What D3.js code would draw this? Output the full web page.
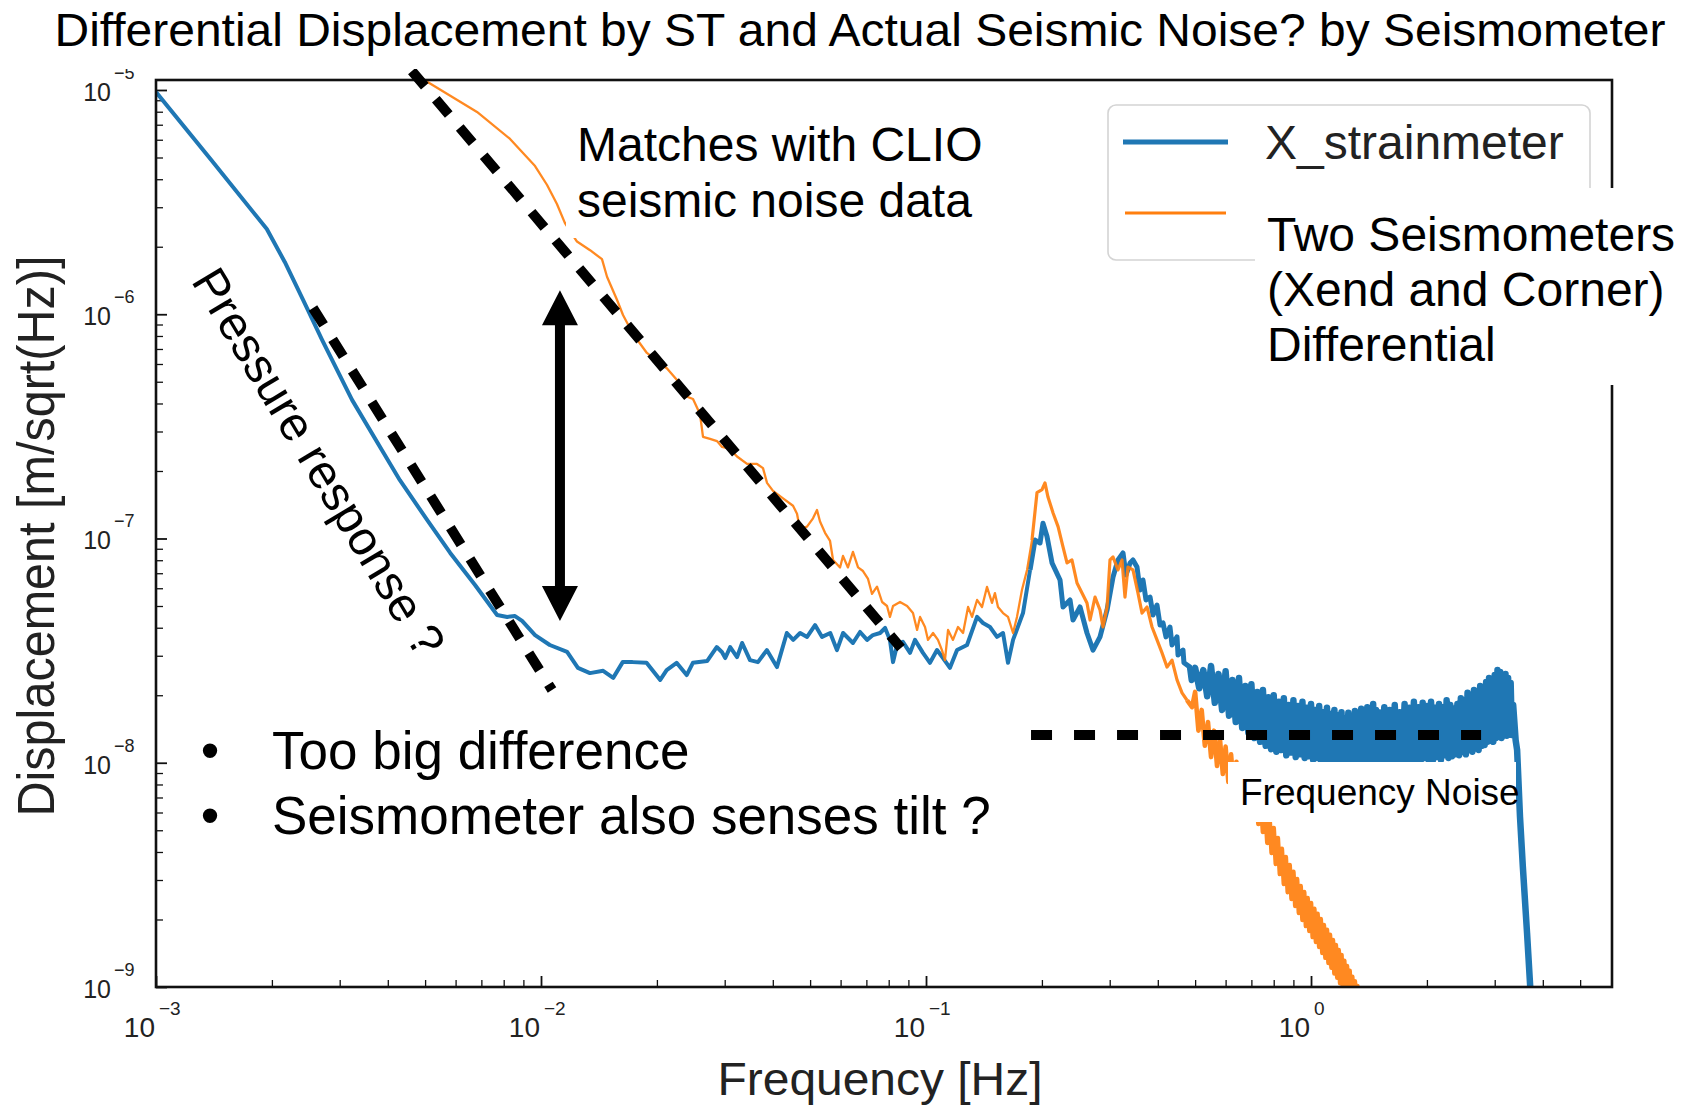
<!DOCTYPE html>
<html>
<head>
<meta charset="utf-8">
<script src="https://cdn.jsdelivr.net/npm/d3@7"></script>
<style>
  body { margin: 0; background: #fff; }
  svg { display: block; font-family: "Liberation Sans", Arial, sans-serif; }
</style>
</head>
<body>
<svg id="chart" width="1686" height="1106"></svg>
<script>
// axis ranges and tick labels
const xDomain = [1e-3, 6.05]
const yDomain = [1e-9, 1.108e-5]
const xMajor = [1e-3, 1e-2, 1e-1, 1e0]
const xMajorExp = ['\u22123', '\u22122', '\u22121', '0']
const yMajor = [1e-9, 1e-8, 1e-7, 1e-6, 1e-5]
const yMajorExp = ['\u22129', '\u22128', '\u22127', '\u22126', '\u22125']
const seriesNames = ['X_strainmeter', 'Two Seismometers']
const seriesColors = ['#1f77b4', '#ff7f0e']

// X_strainmeter ASD [frequency Hz, m/sqrt(Hz)]
const xStrainmeter = [
  [0.001, 9.8e-6], [0.00139, 4.88e-6], [0.00194, 2.40e-6], [0.00216, 1.71e-6], [0.00241, 1.16e-6],
  [0.00270, 7.68e-7], [0.00323, 4.15e-7], [0.00386, 2.48e-7], [0.00430, 1.82e-7], [0.00506, 1.21e-7],
  [0.00581, 8.62e-8], [0.00674, 6.20e-8], [0.00769, 4.56e-8],
  [0.00817, 4.47e-8], [0.00856, 4.51e-8], [0.00893, 4.29e-8], [0.00965, 3.71e-8], [0.01054, 3.35e-8],
  [0.01169, 3.12e-8], [0.01247, 2.65e-8], [0.0134, 2.51e-8], [0.0145, 2.57e-8], [0.0154, 2.39e-8],
  [0.0163, 2.81e-8], [0.0173, 2.81e-8], [0.0188, 2.79e-8], [0.0204, 2.34e-8], [0.0212, 2.59e-8],
  [0.0225, 2.79e-8], [0.0239, 2.46e-8], [0.0248, 2.79e-8], [0.0270, 2.84e-8], [0.0286, 3.28e-8],
  [0.0295, 3.12e-8], [0.0301, 2.93e-8], [0.0310, 3.28e-8], [0.0323, 2.96e-8], [0.0333, 3.42e-8],
  [0.0349, 2.87e-8], [0.0366, 2.81e-8], [0.0386, 3.18e-8], [0.0410, 2.67e-8], [0.0435, 3.79e-8],
  [0.0452, 3.53e-8], [0.0471, 3.79e-8], [0.0491, 3.64e-8], [0.0515, 4.11e-8], [0.0537, 3.64e-8],
  [0.0564, 3.79e-8], [0.0587, 3.18e-8], [0.0609, 3.79e-8], [0.0646, 3.42e-8], [0.0674, 3.83e-8],
  [0.0703, 3.53e-8], [0.0728, 3.71e-8], [0.0760, 3.79e-8], [0.0783, 3.99e-8], [0.0806, 3.53e-8],
  [0.0821, 2.81e-8], [0.0841, 3.35e-8], [0.0871, 3.46e-8], [0.0909, 3.09e-8], [0.0936, 3.53e-8],
  [0.0982, 3.09e-8], [0.1024, 2.79e-8], [0.1068, 3.18e-8], [0.1107, 2.93e-8], [0.1154, 2.65e-8],
  [0.1204, 3.18e-8], [0.1278, 3.35e-8], [0.1357, 4.47e-8], [0.1406, 4.20e-8], [0.1466, 4.03e-8],
  [0.1529, 3.64e-8], [0.1585, 3.79e-8], [0.1633, 2.79e-8], [0.1683, 3.53e-8], [0.1786, 4.65e-8],
  [0.1863, 7.24e-8], [0.1919, 9.84e-8], [0.1978, 9.55e-8], [0.2013, 1.17e-7], [0.2062, 1.02e-7],
  [0.2125, 7.78e-8], [0.2229, 6.53e-8], [0.2269, 4.95e-8], [0.2366, 5.32e-8], [0.2409, 4.33e-8],
  [0.2512, 4.95e-8], [0.2619, 3.79e-8], [0.2715, 3.18e-8], [0.2831, 3.64e-8], [0.2953, 4.80e-8],
  [0.3060, 6.73e-8], [0.3152, 8.02e-8], [0.3248, 8.62e-8], [0.3307, 6.87e-8], [0.3388, 7.78e-8],
  [0.3448, 8.02e-8], [0.3532, 7.46e-8], [0.3596, 5.89e-8], [0.3661, 6.53e-8], [0.3727, 5.32e-8],
  [0.3819, 5.48e-8], [0.3887, 4.56e-8], [0.3981, 5.05e-8], [0.4054, 4.11e-8], [0.4127, 4.20e-8],
  [0.4201, 3.64e-8], [0.4302, 4.03e-8], [0.4355, 3.35e-8], [0.4487, 3.64e-8], [0.4514, 3.02e-8],
  [0.4651, 3.18e-8], [0.4677, 2.79e-8], [0.4851, 2.67e-8], [0.4900, 2.34e-8],
  [0.5000, 2.65e-8], [0.5125, 2.15e-8], [0.5250, 2.59e-8], [0.5375, 1.98e-8], [0.5500, 2.70e-8],
  [0.5625, 1.85e-8], [0.5750, 2.49e-8], [0.5875, 1.72e-8], [0.6000, 2.56e-8], [0.6125, 1.62e-8],
  [0.6250, 2.34e-8], [0.6375, 1.52e-8], [0.6500, 2.39e-8], [0.6625, 1.43e-8], [0.6750, 2.20e-8],
  [0.6875, 1.36e-8], [0.7000, 2.24e-8], [0.7125, 1.29e-8], [0.7250, 2.07e-8], [0.7375, 1.24e-8],
  [0.7500, 2.11e-8], [0.7625, 1.19e-8], [0.7750, 1.96e-8], [0.7875, 1.15e-8], [0.8000, 2.00e-8],
  [0.8125, 1.12e-8], [0.8250, 1.87e-8], [0.8375, 1.14e-8], [0.8500, 1.94e-8], [0.8625, 1.08e-8],
  [0.8750, 1.81e-8], [0.8875, 1.11e-8], [0.9000, 1.90e-8], [0.9125, 1.06e-8], [0.9250, 1.79e-8],
  [0.9375, 1.09e-8], [0.9500, 1.87e-8], [0.9625, 1.05e-8], [0.9750, 1.76e-8], [0.9875, 1.07e-8],
  [1.0000, 1.83e-8], [1.0125, 1.03e-8], [1.0250, 1.72e-8], [1.0375, 1.05e-8], [1.0500, 1.79e-8],
  [1.0625, 1.01e-8], [1.0750, 1.68e-8], [1.0875, 1.04e-8], [1.1000, 1.76e-8], [1.1125, 0.99e-8],
  [1.1250, 1.65e-8], [1.1375, 1.01e-8], [1.1500, 1.72e-8], [1.1625, 0.977e-8], [1.1750, 1.62e-8],
  [1.1875, 1.00e-8], [1.2000, 1.68e-8], [1.2125, 0.977e-8], [1.2250, 1.58e-8], [1.2375, 1.00e-8],
  [1.2500, 1.67e-8], [1.2625, 0.977e-8], [1.2750, 1.58e-8], [1.2875, 0.99e-8], [1.3000, 1.70e-8],
  [1.3125, 0.977e-8], [1.3250, 1.62e-8], [1.3375, 1.00e-8], [1.3500, 1.74e-8], [1.3625, 0.977e-8],
  [1.3750, 1.65e-8], [1.3875, 0.99e-8], [1.4000, 1.77e-8], [1.4125, 0.977e-8], [1.4250, 1.68e-8],
  [1.4375, 1.00e-8], [1.4500, 1.83e-8], [1.4625, 0.977e-8], [1.4750, 1.72e-8], [1.4875, 0.99e-8],
  [1.500, 1.68e-8], [1.525, 1.03e-8], [1.550, 1.77e-8], [1.575, 0.977e-8], [1.600, 1.72e-8],
  [1.625, 1.01e-8], [1.650, 1.81e-8], [1.675, 0.977e-8], [1.700, 1.68e-8], [1.725, 1.03e-8],
  [1.750, 1.83e-8], [1.775, 0.977e-8], [1.800, 1.76e-8], [1.825, 1.01e-8], [1.850, 1.87e-8],
  [1.875, 1.03e-8], [1.900, 1.77e-8], [1.925, 0.99e-8], [1.950, 1.85e-8], [1.975, 1.05e-8],
  [2.000, 1.79e-8], [2.025, 1.01e-8], [2.050, 1.87e-8], [2.075, 1.03e-8], [2.100, 1.76e-8],
  [2.125, 1.06e-8], [2.150, 1.83e-8], [2.175, 1.03e-8], [2.200, 1.77e-8], [2.225, 1.08e-8],
  [2.250, 1.90e-8], [2.275, 1.05e-8], [2.300, 1.81e-8], [2.325, 1.07e-8], [2.350, 1.74e-8],
  [2.375, 1.09e-8], [2.400, 1.83e-8], [2.425, 1.08e-8], [2.450, 1.94e-8], [2.475, 1.12e-8],
  [2.500, 1.90e-8], [2.525, 1.09e-8], [2.550, 2.05e-8], [2.575, 1.14e-8], [2.600, 1.98e-8],
  [2.625, 1.12e-8], [2.650, 2.11e-8], [2.675, 1.16e-8], [2.700, 2.05e-8], [2.725, 1.14e-8],
  [2.750, 2.20e-8], [2.775, 1.19e-8], [2.800, 2.15e-8], [2.825, 1.20e-8], [2.850, 2.29e-8],
  [2.875, 1.24e-8], [2.900, 2.39e-8], [2.925, 1.26e-8], [2.950, 2.22e-8], [2.975, 1.24e-8],
  [3.000, 2.46e-8], [3.025, 1.29e-8], [3.050, 2.59e-8], [3.075, 1.32e-8], [3.100, 2.54e-8],
  [3.125, 1.29e-8], [3.150, 2.44e-8], [3.175, 1.33e-8], [3.200, 2.49e-8], [3.225, 1.32e-8],
  [3.250, 2.39e-8], [3.275, 1.36e-8], [3.300, 2.27e-8], [3.325, 1.33e-8], [3.350, 1.81e-8],
  [3.400, 1.26e-8], [3.430, 1.14e-8], [3.490, 5.73e-9], [3.550, 3.43e-9], [3.640, 1.74e-9],
  [3.710, 1.0e-9], [3.800, 5.0e-10]
]

// two seismometers (Xend and Corner) differential [frequency Hz, m/sqrt(Hz)]
const seismoDiff = [
  [4.30e-3, 1.29e-5], [5.15e-3, 1.07e-5], [6.82e-3, 7.98e-6], [8.31e-3, 6.05e-6], [9.65e-3, 4.58e-6],
  [1.037e-2, 3.77e-6], [1.100e-2, 3.10e-6], [1.154e-2, 2.55e-6], [1.240e-2, 2.11e-6], [1.341e-2, 1.93e-6],
  [1.440e-2, 1.76e-6], [1.484e-2, 1.47e-6], [1.575e-2, 1.16e-6], [1.633e-2, 9.92e-7], [1.734e-2, 8.16e-7],
  [1.884e-2, 6.72e-7], [2.001e-2, 6.19e-7], [2.125e-2, 5.73e-7], [2.255e-2, 5.09e-7], [2.338e-2, 4.36e-7],
  [2.482e-2, 4.19e-7], [2.588e-2, 3.59e-7], [2.635e-2, 2.84e-7], [2.748e-2, 2.78e-7], [2.865e-2, 2.72e-7],
  [2.953e-2, 2.56e-7], [3.096e-2, 2.51e-7], [3.229e-2, 2.32e-7], [3.429e-2, 2.15e-7], [3.639e-2, 2.15e-7],
  [3.772e-2, 2.06e-7], [3.864e-2, 1.77e-7], [4.005e-2, 1.63e-7], [4.252e-2, 1.51e-7], [4.514e-2, 1.40e-7],
  [4.623e-2, 1.29e-7], [4.706e-2, 1.10e-7], [4.908e-2, 1.13e-7], [5.087e-2, 1.23e-7], [5.210e-2, 1.34e-7],
  [5.305e-2, 1.19e-7], [5.467e-2, 1.06e-7], [5.633e-2, 9.75e-8], [5.735e-2, 8.02e-8], [5.98e-2, 7.43e-8],
  [6.086e-2, 8.36e-8], [6.27e-2, 7.43e-8], [6.46e-2, 8.71e-8], [6.66e-2, 7.43e-8], [6.86e-2, 7.16e-8],
  [7.07e-2, 6.60e-8], [7.24e-2, 5.66e-8], [7.46e-2, 6.10e-8], [7.69e-2, 5.21e-8], [7.92e-2, 5.00e-8],
  [8.06e-2, 4.47e-8], [8.21e-2, 5.00e-8], [8.56e-2, 5.21e-8], [8.93e-2, 5.00e-8], [9.25e-2, 4.65e-8],
  [9.48e-2, 3.91e-8], [9.65e-2, 4.47e-8], [9.94e-2, 4.03e-8], [0.1012, 3.53e-8], [0.1043, 3.79e-8],
  [0.1074, 3.53e-8], [0.1100, 3.18e-8], [0.1120, 2.87e-8], [0.1141, 3.91e-8], [0.1175, 3.53e-8],
  [0.1211, 4.03e-8], [0.1248, 3.79e-8], [0.1286, 4.95e-8], [0.1317, 4.47e-8], [0.1357, 5.32e-8],
  [0.1398, 4.95e-8], [0.1440, 6.08e-8], [0.1484, 5.16e-8], [0.1510, 5.71e-8], [0.1538, 4.95e-8],
  [0.1585, 4.65e-8], [0.1633, 4.47e-8], [0.1683, 3.79e-8], [0.1723, 4.47e-8], [0.1775, 5.89e-8],
  [0.1830, 7.24e-8], [0.1885, 9.84e-8], [0.1942, 1.60e-7], [0.2001, 1.65e-7], [0.2037, 1.77e-7],
  [0.2074, 1.53e-7], [0.2138, 1.30e-7], [0.2203, 1.13e-7], [0.2269, 9.17e-8], [0.2324, 7.78e-8],
  [0.2394, 8.02e-8], [0.2467, 6.33e-8], [0.2542, 5.71e-8], [0.2619, 5.16e-8], [0.2667, 4.33e-8],
  [0.2748, 5.48e-8], [0.2831, 4.80e-8], [0.2882, 4.03e-8], [0.2953, 4.95e-8], [0.3005, 8.02e-8],
  [0.3060, 8.27e-8], [0.3152, 7.24e-8], [0.3229, 8.02e-8], [0.3287, 5.48e-8], [0.3347, 7.46e-8],
  [0.3448, 7.24e-8], [0.3553, 5.71e-8], [0.3640, 4.65e-8], [0.3750, 4.95e-8], [0.3864, 4.03e-8],
  [0.3981, 3.53e-8], [0.4102, 3.09e-8], [0.4227, 2.67e-8], [0.4355, 2.87e-8], [0.4487, 2.34e-8],
  [0.4623, 2.05e-8], [0.4764, 1.90e-8], [0.4909, 1.77e-8],
  [0.50, 2.07e-8], [0.51, 1.39e-8], [0.52, 1.72e-8], [0.53, 1.19e-8], [0.54, 1.52e-8],
  [0.55, 1.06e-8], [0.56, 1.39e-8], [0.57, 9.67e-9], [0.58, 1.28e-8], [0.59, 8.91e-9],
  [0.60, 1.18e-8], [0.61, 8.21e-9], [0.62, 1.09e-8], [0.63, 7.64e-9], [0.64, 1.01e-8],
  [0.65, 7.11e-9], [0.66, 9.38e-9], [0.67, 6.61e-9], [0.68, 8.73e-9], [0.69, 6.16e-9],
  [0.70, 8.12e-9], [0.71, 5.73e-9], [0.72, 7.56e-9], [0.73, 5.33e-9], [0.74, 7.11e-9],
  [0.75, 4.91e-9], [0.76, 6.35e-9], [0.77, 4.39e-9], [0.78, 5.73e-9], [0.79, 3.96e-9],
  [0.80, 5.12e-9], [0.81, 3.54e-9], [0.82, 4.62e-9], [0.83, 3.19e-9], [0.84, 4.13e-9],
  [0.85, 2.88e-9], [0.86, 3.80e-9], [0.87, 2.65e-9], [0.88, 3.50e-9], [0.89, 2.47e-9],
  [0.90, 3.26e-9], [0.91, 2.30e-9], [0.92, 3.03e-9], [0.93, 2.14e-9], [0.94, 2.82e-9],
  [0.95, 1.99e-9], [0.96, 2.65e-9], [0.97, 1.87e-9], [0.98, 2.49e-9], [0.99, 1.78e-9],
  [1.00, 2.37e-9], [1.01, 1.67e-9], [1.02, 2.23e-9], [1.03, 1.59e-9], [1.04, 2.12e-9],
  [1.05, 1.51e-9], [1.06, 2.01e-9], [1.07, 1.42e-9], [1.08, 1.89e-9], [1.09, 1.35e-9],
  [1.10, 1.80e-9], [1.11, 1.28e-9], [1.12, 1.71e-9], [1.13, 1.22e-9], [1.14, 1.62e-9],
  [1.15, 1.15e-9], [1.16, 1.54e-9], [1.17, 1.10e-9], [1.18, 1.46e-9], [1.19, 1.04e-9],
  [1.20, 1.39e-9], [1.21, 9.8e-10], [1.22, 1.31e-9], [1.23, 9.3e-10], [1.24, 1.24e-9],
  [1.25, 8.8e-10], [1.26, 1.18e-9], [1.27, 8.3e-10], [1.28, 1.11e-9], [1.29, 7.9e-10],
  [1.30, 1.06e-9], [1.31, 7.6e-10], [1.32, 1.01e-9], [1.33, 7.2e-10], [1.34, 9.7e-10],
  [1.35, 6.9e-10], [1.36, 9.2e-10], [1.38, 6.5e-10], [1.40, 6.0e-10]
]

// hand drawn guide lines on the slide, in data units
const pressureFit = [[2.557e-3, 1.066e-6], [1.068e-2, 2.11e-8]]
const clioFit = [[4.62e-3, 1.215e-5], [8.61e-2, 3.25e-8]]
const freqNoiseLevel = [[0.1874, 1.33e-8], [2.765, 1.33e-8]]
const gapArrow = [[0.0112, 1.28e-6], [0.0112, 4.29e-8]]

// stroke width per frequency range: the dense high-frequency part reads as a thick band
const blueWidths = [[0, 0.19, 4], [0.19, 0.49, 5], [0.49, 10, 6.5]]
const orangeWidths = [[0, 0.19, 2.3], [0.19, 0.49, 3.2], [0.49, 10, 4.6]]

const margin = { left: 156, top: 80, right: 74, bottom: 119 }
const width = 1686 - margin.left - margin.right
const height = 1106 - margin.top - margin.bottom

const svg = d3.select('#chart')

const x = d3.scaleLog().domain(xDomain).range([margin.left, margin.left + width])
const y = d3.scaleLog().domain(yDomain).range([margin.top + height, margin.top])

// minor ticks 2..9 of every decade inside the domain
const xMinor = []
xMajor.forEach(d => { for (let k = 2; k < 10; k++) if (d * k < xDomain[1] * 0.99) xMinor.push(d * k) })
const yMinor = []
yMajor.forEach(d => { for (let k = 2; k < 10; k++) if (d * k < yDomain[1]) yMinor.push(d * k) })

svg.append('defs').append('clipPath').attr('id', 'plot-clip')
  .append('rect')
  .attr('x', margin.left).attr('y', margin.top)
  .attr('width', width).attr('height', height)

// ticks (pointing inward)
function tickAxis (axis, tr, size, sw) {
  const g = svg.append('g').attr('transform', tr)
    .call(axis.tickSize(size).tickFormat(() => ''))
  g.select('.domain').remove()
  g.selectAll('.tick line').attr('stroke', '#111').attr('stroke-width', sw)
}
const bottomY = margin.top + height
tickAxis(d3.axisBottom(x).tickValues(xMajor), `translate(0,${bottomY})`, -11, 1.8)
tickAxis(d3.axisBottom(x).tickValues(xMinor), `translate(0,${bottomY})`, -7, 1.3)
tickAxis(d3.axisLeft(y).tickValues(yMajor), `translate(${margin.left},0)`, -11, 1.8)
tickAxis(d3.axisLeft(y).tickValues(yMinor), `translate(${margin.left},0)`, -7, 1.3)

// tick labels as 10^n
const xLab = svg.append('g').attr('fill', '#222')
xMajor.forEach((d, i) => {
  xLab.append('text').attr('x', x(d) - 1).attr('y', bottomY + 50)
    .attr('text-anchor', 'end').attr('font-size', 28).text('10')
  xLab.append('text').attr('x', x(d) + 3).attr('y', bottomY + 28)
    .attr('font-size', 19).text(xMajorExp[i])
})
const yLab = svg.append('g').attr('fill', '#222')
yMajor.forEach((d, i) => {
  yLab.append('text').attr('x', 111).attr('y', y(d) + 11)
    .attr('text-anchor', 'end').attr('font-size', 25).text('10')
  yLab.append('text').attr('x', 114).attr('y', y(d) - 11)
    .attr('font-size', 18).text(yMajorExp[i])
})

// series
const line = d3.line().x(d => x(d[0])).y(d => y(d[1]))
const curves = svg.append('g').attr('clip-path', 'url(#plot-clip)')
  .attr('fill', 'none').attr('stroke-linejoin', 'round')
function drawSeries (data, color, widths, opacity) {
  widths.forEach(([f0, f1, w]) => {
    // take one extra point on the left so the pieces join up
    let i0 = data.findIndex(d => d[0] >= f0)
    let i1 = data.length - 1
    while (i1 > 0 && data[i1][0] > f1) i1--
    i0 = Math.max(0, i0 - 1)
    curves.append('path').datum(data.slice(i0, i1 + 1))
      .attr('d', line).attr('stroke', color).attr('stroke-width', w)
      .attr('stroke-opacity', opacity)
  })
}
drawSeries(xStrainmeter, seriesColors[0], blueWidths, 1)
drawSeries(seismoDiff, seriesColors[1], orangeWidths, 0.92)

// frame
svg.append('rect').attr('x', margin.left).attr('y', margin.top)
  .attr('width', width).attr('height', height)
  .attr('fill', 'none').attr('stroke', '#111').attr('stroke-width', 2.6)

// legend
const leg = svg.append('g')
leg.append('rect').attr('x', 1108).attr('y', 105).attr('width', 482).attr('height', 155)
  .attr('rx', 8).attr('fill', '#fff').attr('fill-opacity', 0.8)
  .attr('stroke', '#d4d4d4').attr('stroke-width', 1.6)
leg.append('line').attr('x1', 1123).attr('x2', 1228).attr('y1', 142).attr('y2', 142)
  .attr('stroke', seriesColors[0]).attr('stroke-width', 5)
leg.append('line').attr('x1', 1125).attr('x2', 1226).attr('y1', 213).attr('y2', 213)
  .attr('stroke', seriesColors[1]).attr('stroke-width', 2.8)
leg.append('text').attr('x', 1265).attr('y', 159).attr('font-size', 48).attr('fill', '#222')
  .text(seriesNames[0])

// dashed guides
const guide = svg.append('g').attr('stroke', '#000').attr('fill', 'none')
guide.append('path').datum(pressureFit).attr('d', line)
  .attr('stroke-width', 10).attr('stroke-dasharray', '20,17')
guide.append('path').datum(clioFit).attr('d', line)
  .attr('stroke-width', 10).attr('stroke-dasharray', '20,17')
guide.append('path').datum(freqNoiseLevel).attr('d', line)
  .attr('stroke-width', 10).attr('stroke-dasharray', '21,22')

// double arrow
const ax = x(gapArrow[0][0])
const ay1 = y(gapArrow[0][1])
const ay2 = y(gapArrow[1][1])
const head = 35
const hw = 18
svg.append('line').attr('x1', ax).attr('x2', ax).attr('y1', ay1 + head - 2).attr('y2', ay2 - head + 2)
  .attr('stroke', '#000').attr('stroke-width', 10)
svg.append('path').attr('fill', '#000')
  .attr('d', `M${ax},${ay1}L${ax - hw},${ay1 + head}L${ax + hw},${ay1 + head}Z` +
             `M${ax},${ay2}L${ax - hw},${ay2 - head}L${ax + hw},${ay2 - head}Z`)

// slide text boxes (white background)
function textBox (bx, by, bw, bh, lines, tx, ty, size, gap) {
  svg.append('rect').attr('x', bx).attr('y', by).attr('width', bw).attr('height', bh).attr('fill', '#fff')
  lines.forEach((t, i) => {
    svg.append('text').attr('x', tx).attr('y', ty + i * gap).attr('font-size', size).text(t)
  })
}
textBox(566, 100, 424, 138, ['Matches with CLIO', 'seismic noise data'], 577, 161, 48, 56)
textBox(1255, 188, 431, 197, ['Two Seismometers', '(Xend and Corner)', 'Differential'], 1267, 251, 48, 55)
textBox(1228, 762, 288, 60, ['Frequency Noise'], 1240, 805, 37, 0)

svg.append('text').attr('transform', 'translate(319,462) rotate(59)')
  .attr('text-anchor', 'middle').attr('dy', '0.35em').attr('font-size', 48)
  .text('Pressure response ?')

const bullets = ['Too big difference', 'Seismometer also senses tilt ?']
bullets.forEach((t, i) => {
  svg.append('text').attr('x', 210).attr('y', 769 + i * 65).attr('text-anchor', 'middle')
    .attr('font-size', 53).text('\u2022')
  svg.append('text').attr('x', 272).attr('y', 769 + i * 65).attr('font-size', 53).text(t)
})

// axis labels
svg.append('text').attr('transform', 'translate(54,536) rotate(-90)')
  .attr('text-anchor', 'middle').attr('font-size', 52).attr('fill', '#222')
  .attr('textLength', 561).attr('lengthAdjust', 'spacingAndGlyphs')
  .text('Displacement [m/sqrt(Hz)]')
svg.append('text').attr('x', 880).attr('y', 1095)
  .attr('text-anchor', 'middle').attr('font-size', 46).attr('fill', '#222')
  .attr('textLength', 325).attr('lengthAdjust', 'spacingAndGlyphs')
  .text('Frequency [Hz]')

// title on white strip
svg.append('rect').attr('x', 0).attr('y', 0).attr('width', 1686).attr('height', 69).attr('fill', '#fff')
svg.append('text').attr('x', 860).attr('y', 46).attr('text-anchor', 'middle')
  .attr('font-size', 46).attr('textLength', 1611).attr('lengthAdjust', 'spacingAndGlyphs')
  .text('Differential Displacement by ST and Actual Seismic Noise? by Seismometer')
</script>
</body>
</html>
